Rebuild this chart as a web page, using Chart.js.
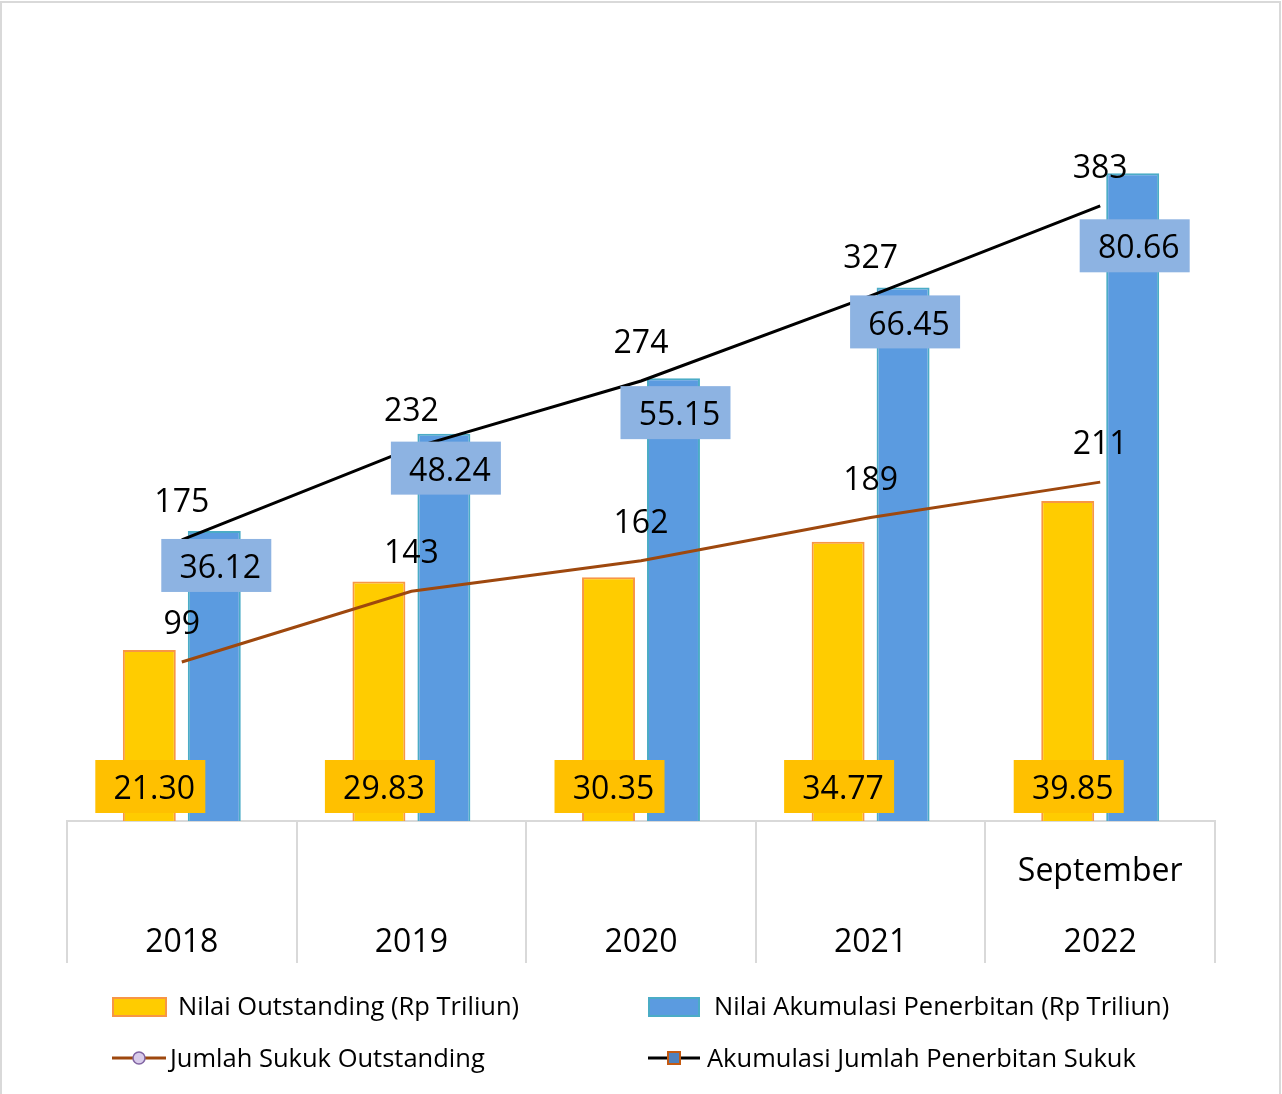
<!DOCTYPE html>
<html>
<head>
<meta charset="utf-8">
<script src="https://cdn.jsdelivr.net/npm/chart.js@4.4.1/dist/chart.umd.min.js"></script>
<style>
  html, body { margin: 0; padding: 0; background: #fff; }
  #wrap { width: 1282px; height: 1094px; position: relative; }
</style>
</head>
<body>
<div id="wrap"><canvas id="sukukChart" width="1282" height="1094"></canvas></div>
<script>
// categories (two-line tick labels)
const years = [['', '2018'], ['', '2019'], ['', '2020'], ['', '2021'], ['September', '2022']];

// bars, Rp Triliun
const nilaiOutstanding = [21.30, 29.83, 30.35, 34.77, 39.85];
const nilaiAkumulasi = [36.12, 48.24, 55.15, 66.45, 80.66];

// lines, number of sukuk
const jumlahOutstanding = [99, 143, 162, 189, 211];
const akumulasiJumlah = [175, 232, 274, 327, 383];

const FONT = '"Open Sans", "Noto Sans", sans-serif';

// value labels: boxes on bars, plain text above line points
const valueLabels = {
  id: 'valueLabels',
  afterDatasetsDraw(chart) {
    const ctx = chart.ctx;
    const y0 = chart.scales.y.getPixelForValue(0);
    ctx.save();
    ctx.font = '32px ' + FONT;
    ctx.textAlign = 'center';
    ctx.textBaseline = 'middle';

    chart.getDatasetMeta(0).data.forEach((bar, i) => {
      const cx = bar.x + 1, cy = y0 - 34;
      ctx.fillStyle = '#FFC000';
      ctx.fillRect(cx - 55, cy - 27, 110, 53);
      ctx.fillStyle = '#000';
      ctx.fillText(nilaiOutstanding[i].toFixed(2), cx + 4, cy + 3);
    });

    chart.getDatasetMeta(1).data.forEach((bar, i) => {
      const drop = i === 4 ? 73 : 35;
      const cx = bar.x + 2, cy = bar.y + drop;
      ctx.fillStyle = '#8DB3E2';
      ctx.fillRect(cx - 55, cy - 27, 110, 53);
      ctx.fillStyle = '#000';
      ctx.fillText(nilaiAkumulasi[i].toFixed(2), cx + 4, cy + 3);
    });

    [[2, jumlahOutstanding], [3, akumulasiJumlah]].forEach(([idx, vals]) => {
      chart.getDatasetMeta(idx).data.forEach((pt, i) => {
        ctx.fillStyle = '#000';
        ctx.fillText(String(vals[i]), pt.x, pt.y - 37);
      });
    });
    ctx.restore();
  }
};

// frame, category labels and legend
const frameLegend = {
  id: 'frameLegend',
  beforeDraw(chart) {
    const ctx = chart.ctx;
    ctx.save();
    ctx.strokeStyle = '#D9D9D9';
    ctx.lineWidth = 2;
    ctx.beginPath();
    ctx.moveTo(1, 1094);
    ctx.lineTo(1, 2);
    ctx.lineTo(1280, 2);
    ctx.lineTo(1280, 1094);
    ctx.stroke();
    ctx.restore();
  },
  afterDraw(chart) {
    const ctx = chart.ctx;
    const xs = chart.scales.x;
    const base = xs.top;
    ctx.save();

    // category labels inside the tick boxes
    ctx.font = '32px ' + FONT;
    ctx.textAlign = 'center';
    ctx.textBaseline = 'middle';
    ctx.fillStyle = '#000';
    years.forEach((lines, i) => {
      const x = xs.getPixelForTick(i);
      if (lines[0]) ctx.fillText(lines[0], x, base + 51);
      ctx.fillText(lines[1], x, base + 122);
    });

    ctx.font = '25.5px ' + FONT;
    ctx.textBaseline = 'middle';
    ctx.textAlign = 'left';

    // bar swatches
    ctx.lineWidth = 2;
    ctx.fillStyle = '#FFCC00'; ctx.strokeStyle = '#F79646';
    ctx.fillRect(113, 998, 53, 18); ctx.strokeRect(113, 998, 53, 18);
    ctx.fillStyle = '#5B9BE0'; ctx.strokeStyle = '#4BACC6';
    ctx.fillRect(649, 998, 50, 18); ctx.strokeRect(649, 998, 50, 18);

    ctx.fillStyle = '#000';
    ctx.fillText(chart.data.datasets[0].label, 178, 1008);
    ctx.fillText(chart.data.datasets[1].label, 714, 1008);

    // line swatches
    ctx.lineWidth = 3;
    ctx.strokeStyle = '#9E480E';
    ctx.beginPath(); ctx.moveTo(112, 1058); ctx.lineTo(166, 1058); ctx.stroke();
    ctx.lineWidth = 1.5;
    ctx.fillStyle = '#D9CCEB'; ctx.strokeStyle = '#8064A2';
    ctx.beginPath(); ctx.arc(139, 1058, 6, 0, Math.PI * 2); ctx.fill(); ctx.stroke();

    ctx.lineWidth = 3;
    ctx.strokeStyle = '#000';
    ctx.beginPath(); ctx.moveTo(648, 1058); ctx.lineTo(700, 1058); ctx.stroke();
    ctx.lineWidth = 2;
    ctx.fillStyle = '#4F81BD'; ctx.strokeStyle = '#C55A11';
    ctx.fillRect(668, 1052, 12, 12); ctx.strokeRect(668, 1052, 12, 12);

    ctx.fillStyle = '#000';
    ctx.fillText(chart.data.datasets[2].label, 170, 1060);
    ctx.fillText(chart.data.datasets[3].label, 707, 1060);
    ctx.restore();
  }
};

const sukukData = {
  labels: years,
  datasets: [{
    type: 'bar',
    label: 'Nilai Outstanding (Rp Triliun)',
    data: nilaiOutstanding,
    backgroundColor: '#FFCC00',
    borderColor: '#F79646',
    borderWidth: 2,
    yAxisID: 'y',
    order: 2
  }, {
    type: 'bar',
    label: 'Nilai Akumulasi Penerbitan (Rp Triliun)',
    data: nilaiAkumulasi,
    backgroundColor: '#5B9BE0',
    borderColor: '#4BACC6',
    borderWidth: 2,
    yAxisID: 'y',
    order: 2
  }, {
    type: 'line',
    label: 'Jumlah Sukuk Outstanding',
    data: jumlahOutstanding,
    borderColor: '#9E480E',
    borderWidth: 3,
    pointRadius: 0,
    tension: 0,
    yAxisID: 'y2',
    order: 1
  }, {
    type: 'line',
    label: 'Akumulasi Jumlah Penerbitan Sukuk',
    data: akumulasiJumlah,
    borderColor: '#000000',
    borderWidth: 3,
    pointRadius: 0,
    tension: 0,
    yAxisID: 'y2',
    order: 1
  }]
};

const sukukConfig = {
  type: 'bar',
  data: sukukData,
  plugins: [valueLabels, frameLegend],
  options: {
    responsive: false,
    animation: false,
    events: [],
    categoryPercentage: 0.566,
    barPercentage: 0.815,
    layout: { padding: { left: 67, right: 67, top: 18, bottom: 131 } },
    plugins: {
      legend: { display: false },
      tooltip: { enabled: false }
    },
    scales: {
      x: {
        grid: {
          offset: true,
          drawOnChartArea: false,
          color: '#D9D9D9',
          lineWidth: 2,
          tickLength: 142
        },
        border: { color: '#D9D9D9', width: 2 },
        ticks: { display: false }
      },
      y: { display: false, min: 0, max: 100 },
      y2: { display: false, min: 0, max: 500, position: 'right' }
    }
  }
};

var sukukChart = new Chart(document.getElementById('sukukChart'), sukukConfig);
</script>
</body>
</html>
